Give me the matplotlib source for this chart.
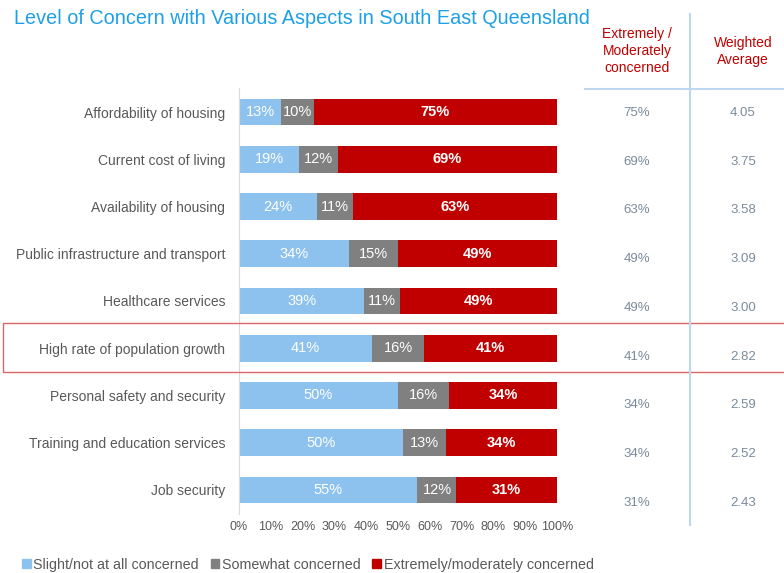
import matplotlib
matplotlib.use("Agg")
import matplotlib.pyplot as plt
from matplotlib.patches import Rectangle
from matplotlib.lines import Line2D
import numpy as np

plt.rcParams['font.family'] = ['Liberation Sans', 'DejaVu Sans']

categories = ["Affordability of housing", "Current cost of living", "Availability of housing",
              "Public infrastructure and transport", "Healthcare services",
              "High rate of population growth", "Personal safety and security",
              "Training and education services", "Job security"]
slight = [13, 19, 24, 34, 39, 41, 50, 50, 55]
somewhat = [10, 12, 11, 15, 11, 16, 16, 13, 12]
extreme = [75, 69, 63, 49, 49, 41, 34, 34, 31]
extreme_col = ["75%", "69%", "63%", "49%", "49%", "41%", "34%", "34%", "31%"]
weighted = ["4.05", "3.75", "3.58", "3.09", "3.00", "2.82", "2.59", "2.52", "2.43"]
series_names = ["Slight/not at all concerned", "Somewhat concerned", "Extremely/moderately concerned"]
xticks = [0, 10, 20, 30, 40, 50, 60, 70, 80, 90, 100]

c_blue = "#8DC2EE"
c_grey = "#808080"
c_red = "#C00000"
c_text = "#595959"

W, H = 784, 573
fig = plt.figure(figsize=(W/100, H/100), dpi=100)
ax = fig.add_axes([239/W, 1-513.6/H, 318/W, 425.2/H])

s = np.array(slight, float); m = np.array(somewhat, float); e = np.array(extreme, float)
tot = s + m + e
sn, mn, en = s/tot*100, m/tot*100, e/tot*100
y = np.arange(len(categories))
h = 0.57
ax.barh(y, sn, height=h, color=c_blue)
ax.barh(y, mn, left=sn, height=h, color=c_grey)
ax.barh(y, en, left=sn+mn, height=h, color=c_red)
for i in range(len(categories)):
    ax.text(sn[i]/2, y[i], f"{slight[i]}%", ha='center', va='center', color='white', fontsize=10.5)
    ax.text(sn[i]+mn[i]/2, y[i], f"{somewhat[i]}%", ha='center', va='center', color='white', fontsize=10.5)
    ax.text(sn[i]+mn[i]+en[i]/2, y[i], f"{extreme[i]}%", ha='center', va='center', color='white',
            fontsize=10.5, fontweight='bold')

ax.set_xlim(0, 100)
ax.set_ylim(len(categories)-0.5, -0.5)
ax.set_yticks(y)
ax.set_yticklabels(categories, fontsize=10, color=c_text)
ax.set_xticks(xticks)
ax.set_xticklabels([f"{t}%" for t in xticks], fontsize=9, color=c_text)
ax.tick_params(axis='both', length=0)
ax.tick_params(axis='y', pad=10)
ax.tick_params(axis='x', pad=5)
for sp in ['top', 'right', 'bottom']:
    ax.spines[sp].set_visible(False)
ax.spines['left'].set_color('#D9D9D9')

fig.text(14/W, 1-19/H, "Level of Concern with Various Aspects in South East Queensland",
         fontsize=14.3, color="#1EA0E6", va='center', ha='left')

# table headers
fig.text(637/W, 1-51/H, "Extremely /\nModerately\nconcerned", ha='center', va='center',
         fontsize=10, color=c_red, linespacing=1.3)
fig.text(743/W, 1-51.5/H, "Weighted\nAverage", ha='center', va='center',
         fontsize=10, color=c_red, linespacing=1.3)
fig.add_artist(Line2D([585/W, 1], [1-89/H, 1-89/H], color="#BDD7EE", lw=1.5))
fig.add_artist(Line2D([690/W, 690/W], [1-14/H, 1-525/H], color="#BDD7EE", lw=1.5))
for i in range(len(categories)):
    py = 113 + i*48.75
    fig.text(637/W, 1-py/H, extreme_col[i], ha='center', va='center', fontsize=9.5, color="#7A8B9C")
    fig.text(743/W, 1-py/H, weighted[i], ha='center', va='center', fontsize=9.5, color="#7A8B9C")

# highlight box
fig.add_artist(Rectangle((3/W, 1-372/H), 790/W, 49/H, fill=False, edgecolor="#E06666", lw=1.0))

# legend
handles = [Rectangle((0, 0), 1, 1, color=c) for c in (c_blue, c_grey, c_red)]
fig.legend(handles, series_names, loc='center left', bbox_to_anchor=(22/W, 1-565/H), ncol=3,
           frameon=False, fontsize=10.3, handlelength=0.6, handleheight=0.6, handletextpad=0.2,
           columnspacing=0.8, labelcolor=c_text, borderaxespad=0, borderpad=0)

fig.savefig("out.png", dpi=100)
